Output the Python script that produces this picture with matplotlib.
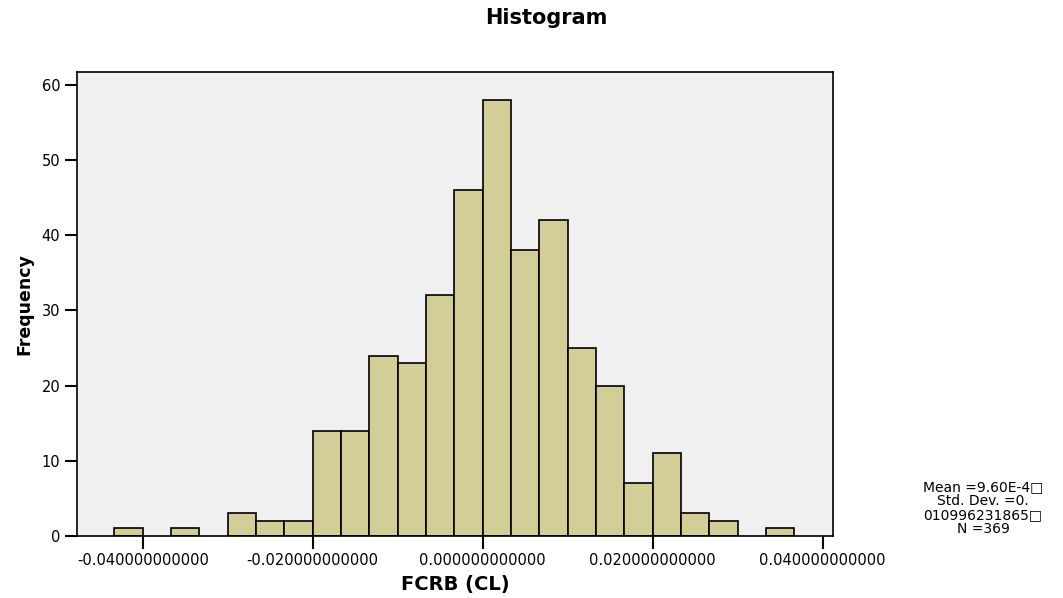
import numpy as np
import matplotlib
matplotlib.use('Agg')
import matplotlib.pyplot as plt

# bin edges of the histogram (width 0.02/6) and counts
bin_start = -0.04 - 0.02 / 6
bin_width = 0.02 / 6
counts = [1, 0, 1, 0, 3, 2, 2, 14, 14, 24, 23, 32, 46, 58, 38, 42, 25, 20, 7, 11, 3, 2, 0, 1]
x_ticks = [-0.04, -0.02, 0.0, 0.02, 0.04]
y_ticks = [0, 10, 20, 30, 40, 50, 60]
stats_lines = ['Mean =9.60E-4\u25a1', 'Std. Dev. =0.', '010996231865\u25a1', 'N =369']

plt.rcParams['font.family'] = ['DejaVu Sans']

fig = plt.figure(figsize=(10.63, 5.98), dpi=100)
ax = fig.add_axes([77 / 1063, 1 - 536 / 598, (833 - 77) / 1063, (536 - 72) / 598])
ax.set_facecolor('#f0f0f0')

edges = bin_start + bin_width * np.arange(len(counts))
for left, c in zip(edges, counts):
    if c > 0:
        ax.bar(left, c, width=bin_width, align='edge', color='#d3ce98',
               edgecolor='black', linewidth=1.2)

ax.set_xlim(-0.04773, 0.04122)
ax.set_ylim(0, 61.7)
ax.set_xticks(x_ticks)
ax.set_xticklabels(['%.12f' % v for v in x_ticks])
ax.set_yticks(y_ticks)
ax.tick_params(axis='both', direction='out', length=9, width=1.5, labelsize=10.5, pad=3)
for s in ax.spines.values():
    s.set_linewidth(1.2)

ax.set_xlabel('FCRB (CL)', fontsize=14, fontweight='bold', labelpad=5)
ax.set_ylabel('Frequency', fontsize=12.5, fontweight='bold', labelpad=6)
fig.text(546 / 1063, 1 - 18 / 598, 'Histogram', ha='center', va='center',
         fontsize=15, fontweight='bold')

fig.text(983 / 1063, 1 - 480 / 598, '\n'.join(stats_lines), ha='center', va='top',
         fontsize=10, linespacing=1.0)

fig.savefig('out.png', dpi=100)
